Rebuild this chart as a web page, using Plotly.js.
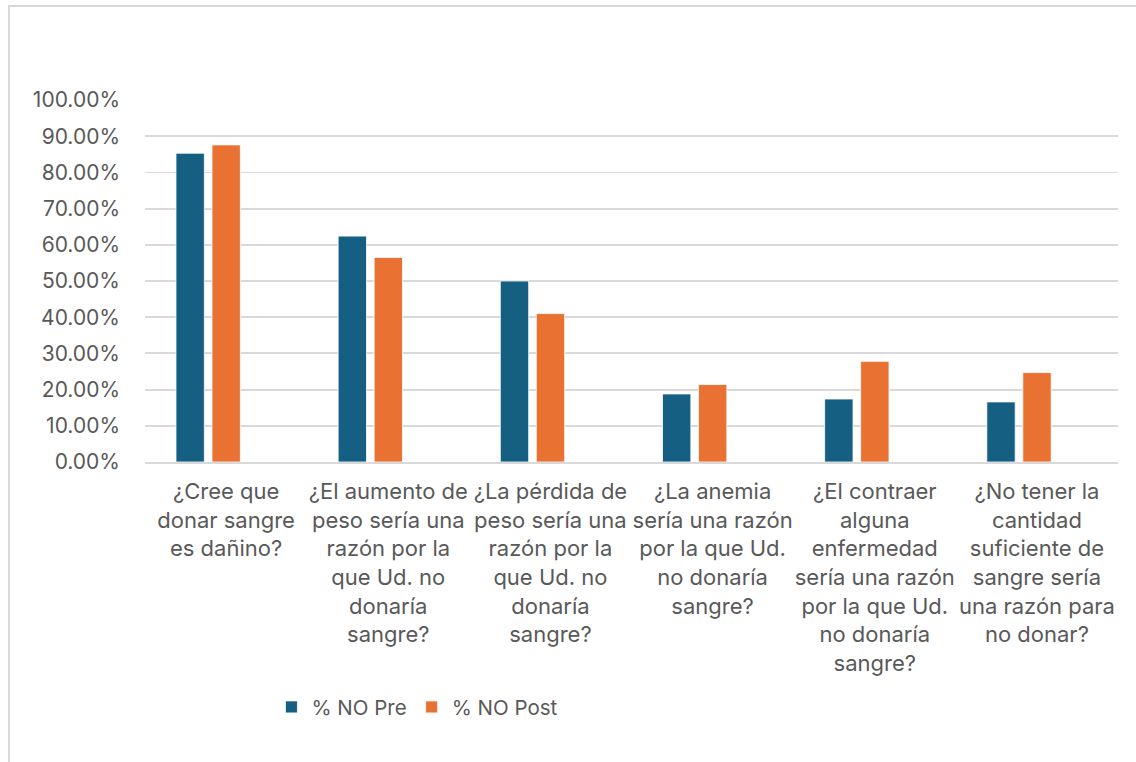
<!DOCTYPE html>
<html>
<head>
<meta charset="utf-8">
<script src="https://cdn.plot.ly/plotly-3.0.1.min.js"></script>
<style>
  html, body { margin: 0; padding: 0; background: #ffffff; }
  #wrap { position: relative; width: 1136px; height: 762px; overflow: hidden; }
  #chart { position: absolute; left: 0; top: 0; width: 1136px; height: 762px; }
  #frame { position: absolute; left: 8px; top: 5px; width: 1140px; height: 770px;
           border: 2px solid #d9d9d9; box-sizing: border-box; pointer-events: none; }
</style>
</head>
<body>
<div id="wrap">
  <div id="chart"></div>
  <div id="frame"></div>
</div>
<script>
// ---- data ----
const categories = [
  "¿Cree que donar sangre es dañino?",
  "¿El aumento de peso sería una razón por la que Ud. no donaría sangre?",
  "¿La pérdida de peso sería una razón por la que Ud. no donaría sangre?",
  "¿La anemia sería una razón por la que Ud. no donaría sangre?",
  "¿El contraer alguna enfermedad sería una razón por la que Ud. no donaría sangre?",
  "¿No tener la cantidad suficiente de sangre sería una razón para no donar?"
];
const tickLabels = [
  "¿Cree que<br>donar sangre<br>es dañino?",
  "¿El aumento de<br>peso sería una<br>razón por la<br>que Ud. no<br>donaría<br>sangre?",
  "¿La pérdida de<br>peso sería una<br>razón por la<br>que Ud. no<br>donaría<br>sangre?",
  "¿La anemia<br>sería una razón<br>por la que Ud.<br>no donaría<br>sangre?",
  "¿El contraer<br>alguna<br>enfermedad<br>sería una razón<br>por la que Ud.<br>no donaría<br>sangre?",
  "¿No tener la<br>cantidad<br>suficiente de<br>sangre sería<br>una razón para<br>no donar?"
];
const seriesNames = ["% NO Pre", "% NO Post"];
const noPre  = [0.853, 0.624, 0.500, 0.188, 0.174, 0.166];
const noPost = [0.876, 0.565, 0.410, 0.214, 0.278, 0.247];

const FONT = "Inter, 'Liberation Sans', Arial, sans-serif";
const TXT = "#595959";

const traces = [
  { type: "bar", name: seriesNames[0], x: categories, y: noPre,
    width: 0.175, offset: -0.309,
    marker: { color: "#156082", line: { color: "#ffffff", width: 0.8 } } },
  { type: "bar", name: seriesNames[1], x: categories, y: noPost,
    width: 0.175, offset: -0.087,
    marker: { color: "#E97132", line: { color: "#ffffff", width: 0.8 } } }
];

const layout = {
  width: 1136, height: 762,
  margin: { l: 145, r: 18, t: 100, b: 300 },
  paper_bgcolor: "#ffffff", plot_bgcolor: "#ffffff",
  font: { family: FONT, color: TXT, size: 20 },
  showlegend: true,
  legend: {
    orientation: "h", x: 0.28, xanchor: "center", y: -0.677, yanchor: "middle",
    font: { family: FONT, size: 20.5, color: TXT }, traceorder: "normal"
  },
  xaxis: {
    type: "category", tickvals: categories, ticktext: tickLabels,
    tickfont: { family: FONT, size: 22, color: TXT },
    tickangle: 0, showgrid: false, zeroline: false,
    showline: true, linecolor: "#d9d9d9", linewidth: 1.8,
    ticks: "", ticklabelstandoff: 9, automargin: false
  },
  yaxis: {
    range: [0, 1], dtick: 0.1, tick0: 0, tickformat: ".2%",
    tickfont: { family: FONT, size: 21, color: TXT },
    showgrid: true, gridcolor: "#d9d9d9", gridwidth: 1.8,
    zeroline: false, showline: false, ticks: "", ticklabelstandoff: 24,
    automargin: false
  }
};

Plotly.newPlot("chart", traces, layout, { displayModeBar: false, staticPlot: true });
</script>
</body>
</html>
